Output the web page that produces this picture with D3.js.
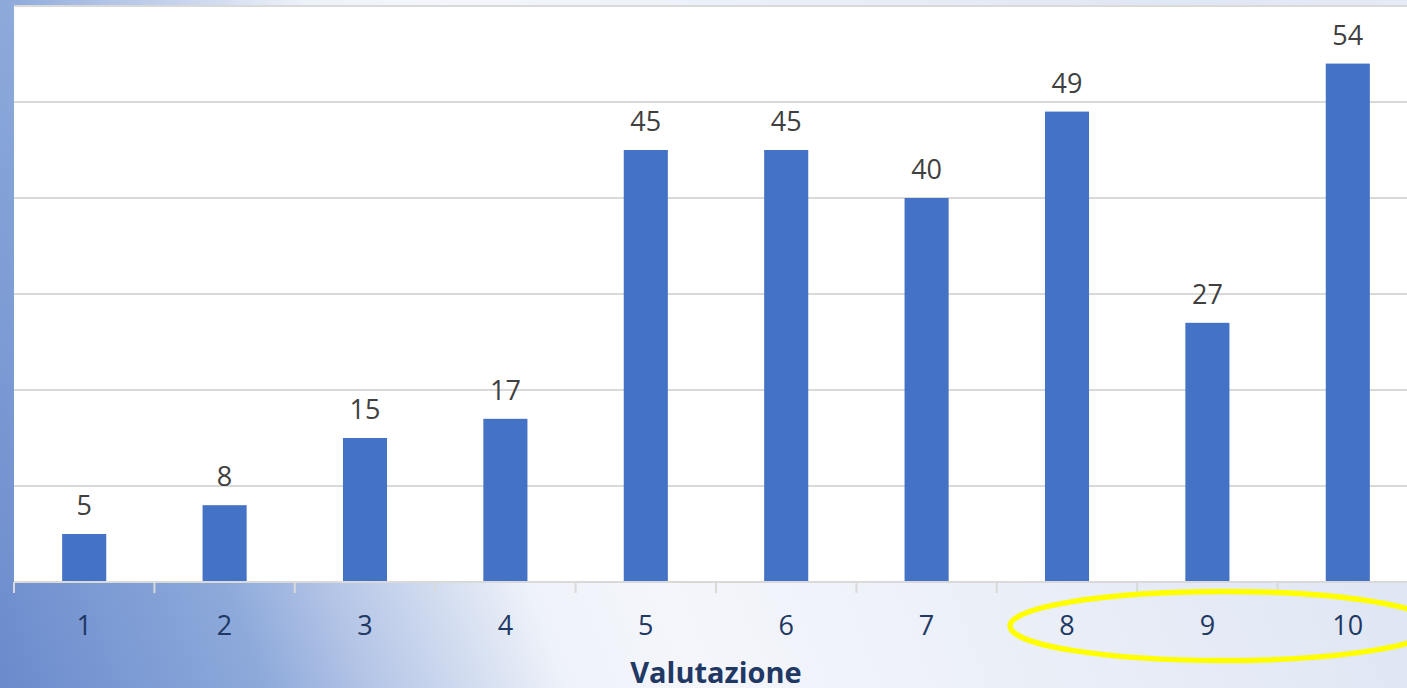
<html>
<head>
  <meta charset="utf8">
  <title>Valutazione</title>
  <style>
    * { margin: 0; padding: 0; }
    body { overflow: hidden; background: #fff; }
  </style>
</head>
<body>
  <script src="https://cdn.jsdelivr.net/npm/d3@7"></script>
  <script>
    var w = 1407
    var h = 688

    var categories = ['1', '2', '3', '4', '5', '6', '7', '8', '9', '10']
    var values = [5, 8, 15, 17, 45, 45, 40, 49, 27, 54]
    var yTicks = [10, 20, 30, 40, 50, 60]
    var axisTitle = 'Valutazione'

    var plotLeft = 14
    var plotTop = 6
    var plotBottom = 582
    var step = 140.4

    var svg = d3.select('body').append('svg').attr('width', w).attr('height', h)

    // background gradient
    var defs = svg.append('defs')
    var grad = defs.append('linearGradient')
      .attr('id', 'bg')
      .attr('gradientUnits', 'userSpaceOnUse')
      .attr('x1', 0).attr('y1', h)
      .attr('x2', 1458).attr('y2', 138)
    var stops = [[0, '#6a8acc'], [0.16, '#8eaadb'], [0.22, '#b3c4e6'], [0.34, '#eef2f9'], [0.42, '#f4f6fb'], [0.85, '#e0e7f4'], [1, '#e4eaf6']]
    grad.selectAll('stop').data(stops).enter().append('stop')
      .attr('offset', d => d[0]).attr('stop-color', d => d[1])

    svg.append('rect').attr('width', w).attr('height', h).attr('fill', 'url(#bg)')

    var xScale = d3.scaleBand().domain(categories)
      .range([plotLeft, plotLeft + step * categories.length])
      .paddingInner(0.686).paddingOuter(0.343)
    var yScale = d3.scaleLinear().domain([0, 60]).range([plotBottom, plotTop])

    // plot area
    svg.append('rect')
      .attr('x', plotLeft).attr('y', plotTop)
      .attr('width', w - plotLeft).attr('height', plotBottom - plotTop)
      .attr('fill', 'white')

    // gridlines
    svg.selectAll('.grid')
      .data(yTicks)
      .enter()
      .append('line')
      .attr('x1', plotLeft).attr('x2', w)
      .attr('y1', d => yScale(d)).attr('y2', d => yScale(d))
      .attr('stroke', '#d9d9d9')
      .attr('stroke-width', 2)

    // bars
    svg.selectAll('.bar')
      .data(values)
      .enter()
      .append('rect')
      .attr('x', (d, i) => xScale(categories[i]))
      .attr('y', d => yScale(d))
      .attr('width', xScale.bandwidth())
      .attr('height', d => yScale(0) - yScale(d))
      .attr('fill', '#4472c4')

    // data labels
    svg.selectAll('.label')
      .data(values)
      .enter()
      .append('text')
      .text(d => d)
      .attr('text-anchor', 'middle')
      .attr('x', (d, i) => xScale(categories[i]) + xScale.bandwidth() / 2)
      .attr('y', d => yScale(d) - 19)
      .attr('font-family', 'Open Sans')
      .attr('font-size', '27px')
      .attr('fill', '#404040')

    // x axis line and ticks
    svg.append('line')
      .attr('x1', plotLeft).attr('x2', w)
      .attr('y1', yScale(0)).attr('y2', yScale(0))
      .attr('stroke', '#d9d9d9')
      .attr('stroke-width', 2)

    var bounds = categories.map(c => xScale(c) - xScale.step() * xScale.paddingInner() / 2)
    bounds.push(xScale.range()[1])
    svg.selectAll('.tick')
      .data(bounds)
      .enter()
      .append('line')
      .attr('x1', d => d).attr('x2', d => d)
      .attr('y1', yScale(0)).attr('y2', yScale(0) + 11)
      .attr('stroke', '#d9d9d9')
      .attr('stroke-width', 2)

    svg.selectAll('.cat')
      .data(categories)
      .enter()
      .append('text')
      .text(d => d)
      .attr('text-anchor', 'middle')
      .attr('x', d => xScale(d) + xScale.bandwidth() / 2)
      .attr('y', 635)
      .attr('font-family', 'Open Sans')
      .attr('font-size', '27px')
      .attr('fill', '#1f3864')

    svg.append('text')
      .text(axisTitle)
      .attr('text-anchor', 'middle')
      .attr('x', 716)
      .attr('y', 683)
      .attr('font-family', 'Open Sans')
      .attr('font-weight', 'bold')
      .attr('font-size', '29px')
      .attr('fill', '#1f3864')

    // yellow highlight round 8-10
    var ex0 = xScale('8') + xScale.bandwidth() / 2 - 57
    var ex1 = xScale('10') + xScale.bandwidth() / 2 + 88
    svg.append('ellipse')
      .attr('cx', (ex0 + ex1) / 2)
      .attr('cy', 626)
      .attr('rx', (ex1 - ex0) / 2)
      .attr('ry', 34.5)
      .attr('fill', 'none')
      .attr('stroke', '#ffff00')
      .attr('stroke-width', 5.5)
  </script>
</body>
</html>
